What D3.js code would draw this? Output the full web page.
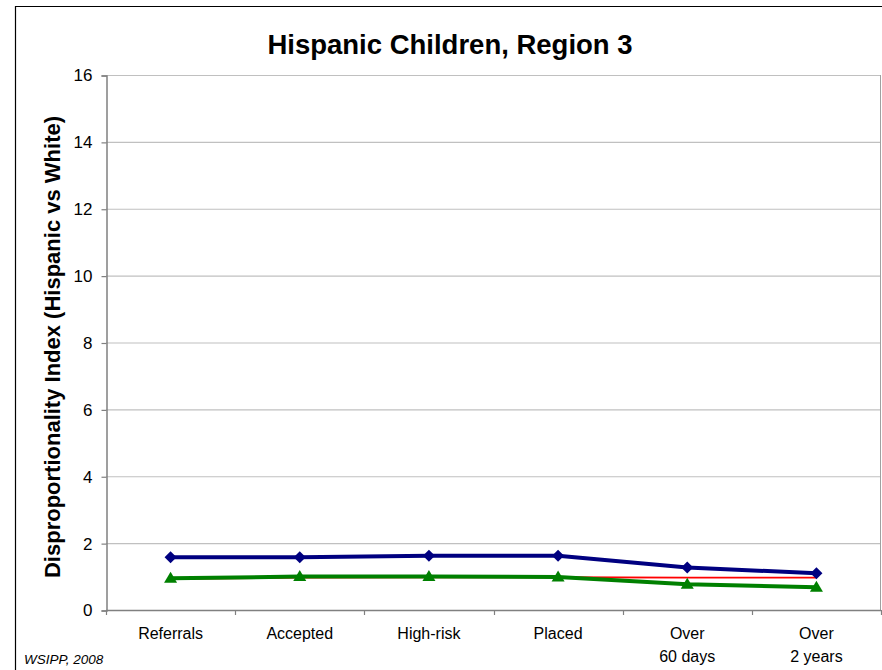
<!DOCTYPE html>
<html>
<head>
<meta charset="utf-8">
<script src="https://cdn.jsdelivr.net/npm/d3@7"></script>
<style>
  body { margin: 0; background: #fff; }
  svg { display: block; font-family: Arial, "Liberation Sans", sans-serif; }
</style>
</head>
<body>
<svg id="chart" width="882" height="670"></svg>
<script>
// Decision points along the child welfare pathway
const categories = ["Referrals", "Accepted", "High-risk", "Placed", "Over\n60 days", "Over\n2 years"];

// Disproportionality index series
const seriesBlue  = [1.58, 1.58, 1.62, 1.62, 1.27, 1.10];
const seriesGreen = [0.95, 1.00, 1.00, 0.99, 0.77, 0.68];
const seriesRed   = [0.93, 0.97, 0.98, 0.98, 0.97, 0.97];

const yTicks = [0, 2, 4, 6, 8, 10, 12, 14, 16];

const svg = d3.select("#chart");
const plot = { left: 106, right: 881, top: 75, bottom: 610 };

// Outer frame (left and top edges visible)
svg.append("path")
  .attr("d", `M15.5,670 L15.5,6.5 L882,6.5`)
  .attr("fill", "none").attr("stroke", "#000").attr("stroke-width", 1.2);

const x = d3.scaleBand().domain(categories).range([plot.left, plot.right]);
const y = d3.scaleLinear().domain([0, 16]).range([plot.bottom, plot.top]);

// Gridlines
svg.append("g").selectAll("line").data(yTicks.filter(d => d > 0)).join("line")
  .attr("x1", plot.left).attr("x2", plot.right)
  .attr("y1", d => y(d) + 0.5).attr("y2", d => y(d) + 0.5)
  .attr("stroke", "#c0c0c0").attr("stroke-width", 1.2);

// Right edge of plot area
svg.append("line")
  .attr("x1", plot.right - 0.5).attr("x2", plot.right - 0.5)
  .attr("y1", plot.top).attr("y2", plot.bottom)
  .attr("stroke", "#a0a0a0").attr("stroke-width", 1);

// Y axis
const yAxis = svg.append("g")
  .attr("transform", `translate(${plot.left + 0.5},0.5)`)
  .call(d3.axisLeft(y).tickValues(yTicks).tickSize(5).tickPadding(9).tickFormat(d3.format("d")));
yAxis.select(".domain").attr("stroke", "#808080").attr("stroke-width", 1.5);
yAxis.selectAll(".tick line").attr("stroke", "#808080").attr("stroke-width", 1.2);
yAxis.selectAll(".tick text").attr("font-size", 17).attr("fill", "#000")
  .attr("font-family", "Arial, 'Liberation Sans', sans-serif");

// X axis line and boundary ticks
svg.append("line")
  .attr("x1", plot.left).attr("x2", plot.right)
  .attr("y1", plot.bottom + 0.5).attr("y2", plot.bottom + 0.5)
  .attr("stroke", "#808080").attr("stroke-width", 1.5);
const boundaries = categories.map(c => x(c)).concat([x.range()[1]]);
svg.append("g").selectAll("line").data(boundaries).join("line")
  .attr("x1", d => Math.round(d) + 0.5).attr("x2", d => Math.round(d) + 0.5)
  .attr("y1", plot.bottom).attr("y2", plot.bottom + 5)
  .attr("stroke", "#808080").attr("stroke-width", 1.2);

// X category labels (two lines where needed)
const xl = svg.append("g").selectAll("text").data(categories).join("text")
  .attr("x", d => x(d) + x.bandwidth() / 2)
  .attr("y", 639)
  .attr("text-anchor", "middle").attr("font-size", 16).attr("fill", "#000");
xl.selectAll("tspan").data(d => d.split("\n")).join("tspan")
  .attr("x", function() { return d3.select(this.parentNode).attr("x"); })
  .attr("dy", (d, i) => i === 0 ? 0 : 23)
  .text(d => d);

const cx = (d, i) => x(categories[i]) + x.bandwidth() / 2;
const line = d3.line().x(cx).y(d => y(d));

// Red reference series
svg.append("path").datum(seriesRed)
  .attr("d", line).attr("fill", "none").attr("stroke", "#ff0000").attr("stroke-width", 1.8);

// Green series with triangles
svg.append("path").datum(seriesGreen)
  .attr("d", line).attr("fill", "none").attr("stroke", "#008000").attr("stroke-width", 4);
svg.append("g").selectAll("path").data(seriesGreen).join("path")
  .attr("transform", (d, i) => `translate(${cx(d, i)},${y(d)})`)
  .attr("d", "M0,-6.5 L6.5,4.5 L-6.5,4.5 Z")
  .attr("fill", "#008000");

// Blue series with diamonds
svg.append("path").datum(seriesBlue)
  .attr("d", line).attr("fill", "none").attr("stroke", "#000080").attr("stroke-width", 4);
svg.append("g").selectAll("path").data(seriesBlue).join("path")
  .attr("transform", (d, i) => `translate(${cx(d, i)},${y(d)})`)
  .attr("d", "M0,-6 L6,0 L0,6 L-6,0 Z")
  .attr("fill", "#000080");

// Title
svg.append("text")
  .attr("x", 450).attr("y", 54)
  .attr("text-anchor", "middle").attr("font-size", 27.5).attr("font-weight", "bold")
  .text("Hispanic Children, Region 3");

// Y axis title
svg.append("text")
  .attr("transform", `translate(60,347) rotate(-90)`)
  .attr("text-anchor", "middle").attr("font-size", 22).attr("font-weight", "bold")
  .text("Disproportionality Index (Hispanic vs White)");

// Source note
svg.append("text")
  .attr("x", 24).attr("y", 664)
  .attr("font-size", 13.5).attr("font-style", "italic")
  .text("WSIPP, 2008");
</script>
</body>
</html>
